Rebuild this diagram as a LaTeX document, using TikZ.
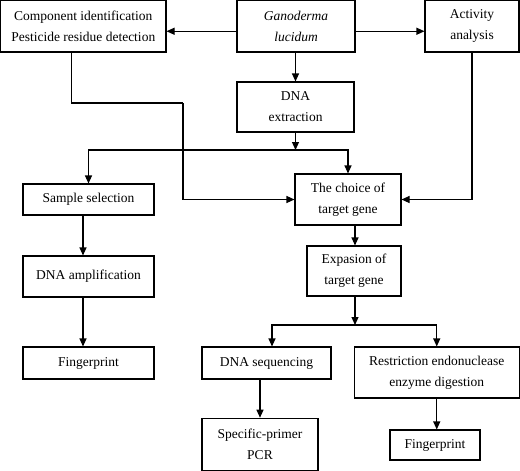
\documentclass[tikz,border=0pt]{standalone}
\usepackage{fontspec}
\setmainfont{Liberation Serif}
\usetikzlibrary{arrows.meta,calc}
\begin{document}
\begin{tikzpicture}[x=1pt,y=-1pt,
  box/.style={draw,line width=1.1pt,inner sep=0pt,align=center,font=\fontsize{13.5}{21}\selectfont},
  arr/.style={line width=1.1pt,-{Triangle[length=8pt,width=7pt]}},
  ln/.style={line width=1.1pt}]
\useasboundingbox (0,0) rectangle (520,471);
\node[box,minimum width=165.5pt,minimum height=51.5pt] (comp) at (83.25,26.25) {Component identification\\Pesticide residue detection};
\node[box,minimum width=118pt,minimum height=51.5pt] (gano) at (296,26.25) {\itshape Ganoderma\\\itshape lucidum};
\node[box,minimum width=94pt,minimum height=51.5pt] (act) at (472,26.25) {Activity\\analysis};
\node[box,minimum width=117pt,minimum height=50pt] (dnaext) at (295.5,107) {DNA\\extraction};
\node[box,minimum width=106pt,minimum height=51pt] (choice) at (348,199.5) {The choice of\\target gene};
\node[box,minimum width=131pt,minimum height=31pt] (sample) at (88.5,199.5) {Sample selection};
\node[box,minimum width=131pt,minimum height=41pt] (amp) at (88.5,276.5) {DNA amplification};
\node[box,minimum width=131pt,minimum height=32pt] (fp1) at (88.5,363) {Fingerprint};
\node[box,minimum width=94pt,minimum height=50pt] (exp) at (354,271) {Expasion of\\target gene};
\node[box,minimum width=129pt,minimum height=32pt] (seq) at (266.5,363) {DNA sequencing};
\node[box,minimum width=165pt,minimum height=51pt] (restr) at (436.75,372.5) {Restriction endonuclease\\enzyme digestion};
\node[box,minimum width=116pt,minimum height=52pt] (spec) at (260,444.25) {Specific-primer\\PCR};
\node[box,minimum width=90pt,minimum height=30pt] (fp2) at (435,445) {Fingerprint};
\coordinate (j1) at (295.5,150);
\coordinate (b1) at (183,103);
\coordinate (j2) at (355,325);
\draw[arr] ([yshift=-5pt]gano.west) -- ([yshift=-5pt]comp.east);
\draw[arr] ([yshift=-5pt]gano.east) -- ([yshift=-5pt]act.west);
\draw[arr] (gano.south -| dnaext.north) -- (dnaext.north);
\draw[arr] (dnaext.south) -- (j1);
\draw[arr] (j1) -| (sample.north);
\draw[arr] (j1) -| (choice.north);
\draw[ln] ([xshift=-12pt]comp.south) |- (b1);
\draw[arr] (b1) |- (choice.west);
\draw[arr] (act.south) |- (choice.east);
\draw[arr] ([xshift=-5.5pt]sample.south) -- ([xshift=-5.5pt]amp.north);
\draw[arr] ([xshift=-5.5pt]amp.south) -- ([xshift=-5.5pt]fp1.north);
\draw[arr] (choice.south -| j2) -- (exp.north -| j2);
\draw[arr] (exp.south -| j2) -- (j2);
\draw[arr] (j2) -| ([xshift=5.5pt]seq.north);
\draw[arr] (j2) -| (restr.north);
\draw[arr] (seq.south -| spec.north) -- (spec.north);
\draw[arr] (restr.south) -- (restr.south |- fp2.north);
\end{tikzpicture}
\end{document}
